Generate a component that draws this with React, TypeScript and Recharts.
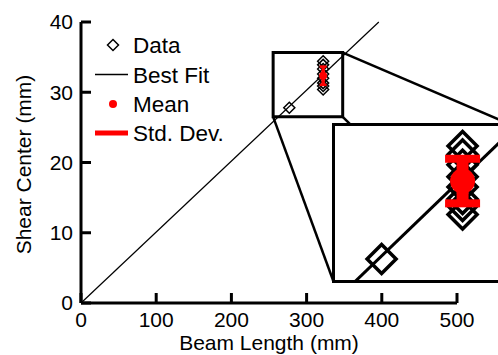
import React from "react";
import {
  ComposedChart,
  Line,
  Scatter,
  XAxis,
  YAxis,
  ReferenceArea,
  Legend,
} from "recharts";

// measured data (mm)
const beamLength = [277, 322, 322, 322, 322, 322, 322, 322, 322];
const shearCenter = [27.8, 34.4, 33.9, 33.3, 32.6, 32.0, 31.3, 30.9, 30.4];
const meanLength = [322];
const meanShear = [32.35];
const stdDev = [1.3];
const fitLength = [0, 396];
const fitShear = [0, 40];

const xTicks = [0, 100, 200, 300, 400, 500];
const yTicks = [0, 10, 20, 30, 40];

// zoom window drawn on the main plot, and what the inset shows
const zoomX = [255.5, 348];
const zoomY = [26.5, 35.65];
const insetX = [251.1, 347.8];
const insetY = [26.58, 35.56];

const points = beamLength.map((x, i) => ({ x, y: shearCenter[i] }));
const means = meanLength.map((x, i) => ({ x, y: meanShear[i] }));
const fit = fitLength.map((x, i) => ({ x, y: fitShear[i] }));
// std. dev. bar ends
const sdBar = meanLength.flatMap((x, i) => [
  { x, y: meanShear[i] - stdDev[i] },
  { x, y: meanShear[i] + stdDev[i] },
]);

const W = 498;
const H = 355;
const PLOT = { left: 81, top: 22, right: 457, bottom: 303 };
const INSET = { left: 332, top: 123, width: 180, height: 160, border: 3 };
const FONT = "'Liberation Sans', Arial, sans-serif";
const RED = "#ff0000";

const px = (x: number) =>
  PLOT.left + (x / 500) * (PLOT.right - PLOT.left);
const py = (y: number) =>
  PLOT.bottom - (y / 40) * (PLOT.bottom - PLOT.top);

const diamond = (r: number, sw: number) => (props: any) => {
  const { cx, cy } = props;
  if (cx == null || cy == null) return <g />;
  return (
    <path
      d={`M${cx},${cy - r}L${cx + r},${cy}L${cx},${cy + r}L${cx - r},${cy}Z`}
      fill="none"
      stroke="#000"
      strokeWidth={sw}
    />
  );
};

const dot = (r: number) => (props: any) => {
  const { cx, cy } = props;
  if (cx == null || cy == null) return <g />;
  return <circle cx={cx} cy={cy} r={r} fill={RED} />;
};

const cap = (half: number, thick: number) => (props: any) => {
  const { cx, cy } = props;
  if (cx == null || cy == null) return <g />;
  return (
    <rect x={cx - half} y={cy - thick / 2} width={half * 2} height={thick} fill={RED} />
  );
};

const tickStyle = { fontSize: 21, fontFamily: FONT, fill: "#000" };
const axisLine = { stroke: "#000", strokeWidth: 3 };
const tickLine = { stroke: "#000", strokeWidth: 3 };

const LegendBox = () => {
  const rows = [19, 48.5, 78, 107];
  const textStyle = { fontSize: 22.5, fontFamily: FONT, fill: "#000" };
  return (
    <svg width={170} height={125}>
      <path
        d={`M25,${rows[0] - 5.5}L30.5,${rows[0]}L25,${rows[0] + 5.5}L19.5,${rows[0]}Z`}
        fill="none"
        stroke="#000"
        strokeWidth={1.5}
      />
      <text x={45} y={rows[0] + 8} style={textStyle}>Data</text>
      <line x1={7} x2={40} y1={rows[1]} y2={rows[1]} stroke="#000" strokeWidth={1.3} />
      <text x={45} y={rows[1] + 8} style={textStyle}>Best Fit</text>
      <circle cx={25} cy={rows[2]} r={4} fill={RED} />
      <text x={45} y={rows[2] + 8} style={textStyle}>Mean</text>
      <line x1={7} x2={40} y1={rows[3]} y2={rows[3]} stroke={RED} strokeWidth={5} />
      <text x={45} y={rows[3] + 8} style={textStyle}>Std. Dev.</text>
    </svg>
  );
};

export default function App() {
  const insetL = INSET.left + INSET.border / 2;
  const insetT = INSET.top + INSET.border / 2;
  const insetR = INSET.left + INSET.width - INSET.border / 2;
  const insetB = INSET.top + INSET.height - INSET.border / 2;

  return (
    <div
      style={{
        position: "absolute",
        left: 0,
        top: 0,
        width: W,
        height: H,
        overflow: "hidden",
        background: "#fff",
      }}
    >
      <ComposedChart
        width={W}
        height={H}
        margin={{ top: PLOT.top, right: W - PLOT.right, bottom: 0, left: 0 }}
      >
        <XAxis
          type="number"
          dataKey="x"
          domain={[0, 500]}
          ticks={xTicks}
          interval={0}
          height={H - PLOT.bottom}
          tickSize={-10}
          tickMargin={19}
          axisLine={axisLine}
          tickLine={tickLine}
          tick={tickStyle}
        />
        <XAxis
          xAxisId="top"
          orientation="top"
          type="number"
          domain={[0, 500]}
          ticks={xTicks}
          interval={0}
          height={0}
          tickSize={-10}
          tickFormatter={() => ""}
          axisLine={axisLine}
          tickLine={tickLine}
        />
        <YAxis
          type="number"
          domain={[0, 40]}
          ticks={yTicks}
          interval={0}
          width={PLOT.left}
          tickSize={-10}
          tickMargin={18}
          axisLine={axisLine}
          tickLine={tickLine}
          tick={tickStyle}
        />
        <YAxis
          yAxisId="right"
          orientation="right"
          type="number"
          domain={[0, 40]}
          ticks={yTicks}
          interval={0}
          width={0}
          tickSize={-10}
          tickFormatter={() => ""}
          axisLine={axisLine}
          tickLine={tickLine}
        />
        <Legend
          layout="vertical"
          align="center"
          verticalAlign="middle"
          wrapperStyle={{ left: 88, top: 26, width: 170, height: 125 }}
          content={() => <LegendBox />}
        />
        <Line
          data={fit}
          dataKey="y"
          stroke="#000"
          strokeWidth={1.2}
          dot={false}
          activeDot={false}
          isAnimationActive={false}
        />
        <Scatter
          data={points}
          dataKey="y"
          shape={diamond(5.5, 1.5)}
          isAnimationActive={false}
        />
        <Scatter
          data={sdBar}
          dataKey="y"
          line={{ stroke: RED, strokeWidth: 3.5 }}
          shape={cap(3.5, 2.5)}
          isAnimationActive={false}
        />
        <Scatter
          data={means}
          dataKey="y"
          shape={dot(4)}
          isAnimationActive={false}
        />
        <ReferenceArea
          x1={zoomX[0]}
          x2={zoomX[1]}
          y1={zoomY[0]}
          y2={zoomY[1]}
          fill="none"
          fillOpacity={0}
          stroke="#000"
          strokeWidth={3}
        />
      </ComposedChart>

      <svg
        width={W}
        height={H}
        style={{ position: "absolute", left: 0, top: 0, pointerEvents: "none" }}
      >
        <line
          x1={px(zoomX[1])}
          y1={py(zoomY[1])}
          x2={insetR}
          y2={insetT}
          stroke="#000"
          strokeWidth={2.5}
        />
        <line
          x1={px(zoomX[0])}
          y1={py(zoomY[0])}
          x2={insetL}
          y2={insetB}
          stroke="#000"
          strokeWidth={2.5}
        />
        <line
          x1={px(zoomX[1])}
          y1={py(zoomY[0])}
          x2={insetR}
          y2={insetB}
          stroke="#000"
          strokeWidth={2.5}
        />
        <text
          x={(PLOT.left + PLOT.right) / 2}
          y={350}
          textAnchor="middle"
          style={{ fontSize: 21, fontFamily: FONT, fill: "#000" }}
        >
          Beam Length (mm)
        </text>
        <text
          transform={`translate(31,${(PLOT.top + PLOT.bottom) / 2 + 2}) rotate(-90)`}
          textAnchor="middle"
          style={{ fontSize: 21, fontFamily: FONT, fill: "#000" }}
        >
          Shear Center (mm)
        </text>
      </svg>

      <div
        style={{
          position: "absolute",
          left: INSET.left,
          top: INSET.top,
          width: INSET.width,
          height: INSET.height,
          border: `${INSET.border}px solid #000`,
          boxSizing: "border-box",
          background: "#fff",
        }}
      >
        <ComposedChart
          width={INSET.width - 2 * INSET.border}
          height={INSET.height - 2 * INSET.border}
          margin={{ top: 0, right: 0, bottom: 0, left: 0 }}
        >
          <XAxis type="number" dataKey="x" domain={insetX} allowDataOverflow hide />
          <YAxis type="number" domain={insetY} allowDataOverflow hide />
          <Line
            data={fit}
            dataKey="y"
            stroke="#000"
            strokeWidth={3}
            dot={false}
            activeDot={false}
            isAnimationActive={false}
          />
          <Scatter
            data={points}
            dataKey="y"
            shape={diamond(14.5, 3.5)}
            isAnimationActive={false}
          />
          <Scatter
            data={sdBar}
            dataKey="y"
            line={{ stroke: RED, strokeWidth: 12 }}
            shape={cap(17.5, 8)}
            isAnimationActive={false}
          />
          <Scatter
            data={means}
            dataKey="y"
            shape={dot(12.5)}
            isAnimationActive={false}
          />
        </ComposedChart>
      </div>
    </div>
  );
}
